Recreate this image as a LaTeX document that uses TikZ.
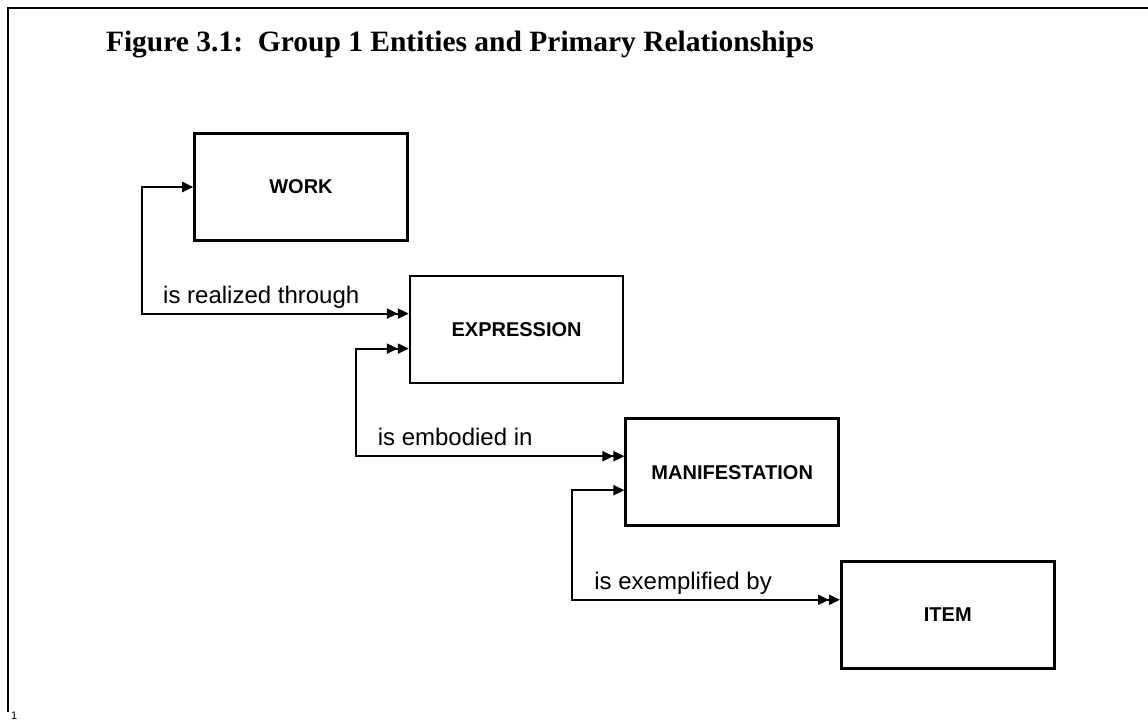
\documentclass[tikz,border=0pt]{standalone}
\usepackage{fontspec}
\setmainfont{Liberation Serif}
\setsansfont{Liberation Sans}
\usetikzlibrary{arrows.meta,positioning}

\begin{document}
\begin{tikzpicture}[x=1pt,y=-1pt,>={Triangle[length=11pt,width=10pt]},
  line width=2pt,
  entity/.style={rectangle,draw,line width=2.6pt,minimum width=213pt,
    minimum height=107pt,font=\sffamily\bfseries\fontsize{20}{24}\selectfont},
  rel/.style={font=\sffamily\fontsize{24}{28}\selectfont,inner sep=0pt}]

  \useasboundingbox (0,0) rectangle (1148,721);
  % page frame and caption
  \draw[line width=2.6pt] (8,712) -- (8,8) -- (1148,8);
  \node[anchor=base west,inner sep=0pt,
    font=\bfseries\fontsize{29.5}{34}\selectfont] (caption) at (105,51)
    {Figure 3.1:\ \ Group 1 Entities and Primary Relationships};
  \node[anchor=base west,inner sep=0pt,
    font=\sffamily\fontsize{11}{13}\selectfont] (pagenum) at (10,719) {1};

  \node[entity] (work) at (301,187) {WORK};
  \node[entity] (expression) [below right=33pt and 0pt of work] {EXPRESSION};
  \node[entity] (manifestation) [below right=33pt and 0pt of expression] {MANIFESTATION};
  \node[entity] (item) [below right=33pt and 0pt of manifestation] {ITEM};

  % relationships, left side loops
  \draw[<->>] (work.west) -- ++(-51,0)
    |- node[rel,pos=0.5,anchor=base west,xshift=20pt,yshift=10pt] {is realized through}
    ([yshift=16pt]expression.west);
  \draw[<<->>] ([yshift=-19pt]expression.west) -- ++(-53,0)
    |- node[rel,pos=0.5,anchor=base west,xshift=21pt,yshift=11pt] {is embodied in}
    ([yshift=16pt]manifestation.west);
  \draw[<->>] ([yshift=-18pt]manifestation.west) -- ++(-52,0)
    |- node[rel,pos=0.5,anchor=base west,xshift=21pt,yshift=10pt] {is exemplified by}
    ([yshift=15pt]item.west);
\end{tikzpicture}
\end{document}
